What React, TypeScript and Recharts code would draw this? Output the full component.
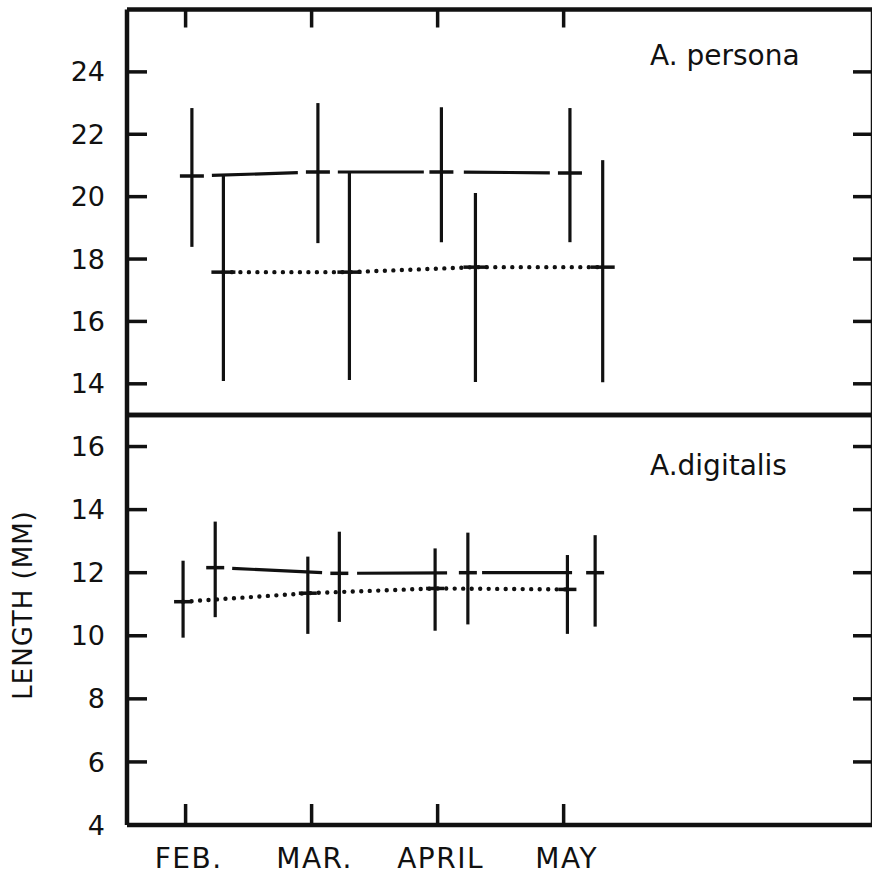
import { ComposedChart, Line, XAxis, YAxis, ErrorBar } from 'recharts'

// month ticks on the shared x scale (0 = FEB.)
const months = ['FEB.', 'MAR.', 'APRIL', 'MAY']
const monthPos = [0, 1, 2, 3]

const personaTicks = [14, 16, 18, 20, 22, 24]
const digitalisTicks = [4, 6, 8, 10, 12, 14, 16]

// A. persona — upper series (dashed)
const personaUpX = [0.05, 1.05, 2.03, 3.05]
const personaUpMean = [20.66, 20.79, 20.79, 20.76]
const personaUpLow = [18.39, 18.51, 18.54, 18.54]
const personaUpHigh = [22.84, 23.0, 22.87, 22.84]

// A. persona — lower series (dotted)
const personaLoX = [0.3, 1.3, 2.3, 3.31]
const personaLoMean = [17.58, 17.58, 17.74, 17.74]
const personaLoLow = [14.09, 14.12, 14.06, 14.05]
const personaLoHigh = [20.73, 20.76, 20.12, 21.17]

// A. digitalis — upper series (dashed)
const digitUpX = [0.235, 1.22, 2.24, 3.25]
const digitUpMean = [12.16, 11.98, 12.0, 12.0]
const digitUpLow = [10.59, 10.44, 10.36, 10.29]
const digitUpHigh = [13.62, 13.3, 13.27, 13.19]

// A. digitalis — lower series (dotted)
const digitLoX = [-0.02, 0.97, 1.98, 3.03]
const digitLoMean = [11.08, 11.35, 11.5, 11.47]
const digitLoLow = [9.94, 10.06, 10.16, 10.06]
const digitLoHigh = [12.38, 12.51, 12.77, 12.56]

const ink = '#111'
const font = '"DejaVu Sans", sans-serif'
const xDomain: [number, number] = [-0.465, 5.455]

function rows(xs: number[], mean: number[], low: number[], high: number[]) {
  return xs.map((x, i) => ({ x, y: mean[i], err: [mean[i] - low[i], high[i] - mean[i]] }))
}

// keeps the tick line but draws no label
const noLabel = () => <g />

// short horizontal bar marking the mean
const cross = (half: number) => (p: any) => {
  if (p.cx == null || p.cy == null) return <g key={`c-${p.index}`} />
  return (
    <line key={`c-${p.index}`} x1={p.cx - half} x2={p.cx + half} y1={p.cy} y2={p.cy}
      stroke={ink} strokeWidth={3.5} />
  )
}

type PanelProps = {
  top: number
  height: number
  topAxisH: number
  bottomAxisH: number
  domain: [number, number]
  ticks: number[]
  upper: any[]
  lower: any[]
  half: number
  dashes: string
  showMonths: boolean
  showTopTicks: boolean
  title: string
  titleY: number
  yLabel?: boolean
}

function Panel(p: PanelProps) {
  const axisFont = { fontSize: 27, fill: ink, fontFamily: font }
  const monthFont = { fontSize: 28, fill: ink, fontFamily: font, letterSpacing: 1.5, dx: 3 }
  const tickLine = { stroke: ink, strokeWidth: 3.5 }
  const axisLine = { stroke: ink, strokeWidth: 4.5 }
  return (
    <div style={{ position: 'absolute', left: 0, top: p.top }}>
      <ComposedChart width={874} height={p.height} margin={{ top: 0, right: 0, bottom: 0, left: 0 }}>
        <XAxis xAxisId="t" orientation="top" type="number" dataKey="x" domain={xDomain} allowDataOverflow
          ticks={monthPos} height={p.topAxisH} tick={noLabel} tickSize={-18}
          tickLine={p.showTopTicks ? tickLine : false} axisLine={axisLine} />
        <XAxis xAxisId="b" orientation="bottom" type="number" dataKey="x" domain={xDomain} allowDataOverflow
          ticks={monthPos} height={p.bottomAxisH} tickSize={-21} tickMargin={44}
          tick={p.showMonths ? monthFont : noLabel}
          tickFormatter={(v: number) => months[monthPos.indexOf(v)] ?? ''}
          tickLine={p.showMonths ? tickLine : false} axisLine={axisLine} />
        <YAxis yAxisId="l" orientation="left" type="number" domain={p.domain} allowDataOverflow
          ticks={p.ticks} width={127} tickSize={-20} tickMargin={42} tick={axisFont}
          tickLine={tickLine} axisLine={axisLine} />
        <YAxis yAxisId="r" orientation="right" type="number" domain={p.domain} allowDataOverflow
          ticks={p.ticks} width={1} tickSize={-20} tick={noLabel}
          tickLine={tickLine} axisLine={axisLine} />

        <Line xAxisId="b" yAxisId="l" data={p.upper} dataKey="y" stroke={ink} strokeWidth={3.2}
          strokeDasharray={p.dashes} dot={cross(p.half)} activeDot={false} isAnimationActive={false}>
          <ErrorBar dataKey="err" direction="y" width={0} stroke={ink} strokeWidth={3.2} />
        </Line>
        <Line xAxisId="b" yAxisId="l" data={p.lower} dataKey="y" stroke={ink} strokeWidth={4.4}
          strokeDasharray="0 8.5" strokeLinecap="round" dot={cross(p.half)} activeDot={false}
          isAnimationActive={false}>
          <ErrorBar dataKey="err" direction="y" width={0} stroke={ink} strokeWidth={3.2} />
        </Line>

        <text x={650} y={p.titleY} fontSize={28} fontFamily={font} fill={ink}>{p.title}</text>
        {p.yLabel && (
          <text x={23} y={200} fontSize={26} fontFamily={font} fill={ink} textAnchor="middle"
            transform="rotate(-90 23 200)" dominantBaseline="central" letterSpacing={1}>LENGTH (MM)</text>
        )}
      </ComposedChart>
    </div>
  )
}

export default function App() {
  return (
    <div style={{ position: 'absolute', left: 0, top: 0, width: 872, height: 881, overflow: 'hidden', background: '#fff' }}>
      <Panel top={0} height={420} topAxisH={9.5} bottomAxisH={5}
        domain={[13, 26]} ticks={personaTicks}
        upper={rows(personaUpX, personaUpMean, personaUpLow, personaUpHigh)}
        lower={rows(personaLoX, personaLoMean, personaLoLow, personaLoHigh)}
        half={12} dashes="0 20 86 20" showMonths={false} showTopTicks
        title="A. persona" titleY={65} />
      <Panel top={405} height={476} topAxisH={10} bottomAxisH={56}
        domain={[4, 17]} ticks={digitalisTicks}
        upper={rows(digitUpX, digitUpMean, digitUpLow, digitUpHigh)}
        lower={rows(digitLoX, digitLoMean, digitLoLow, digitLoHigh)}
        half={9} dashes="0 17 90 18" showMonths showTopTicks={false}
        title="A.digitalis" titleY={70} yLabel />
    </div>
  )
}
